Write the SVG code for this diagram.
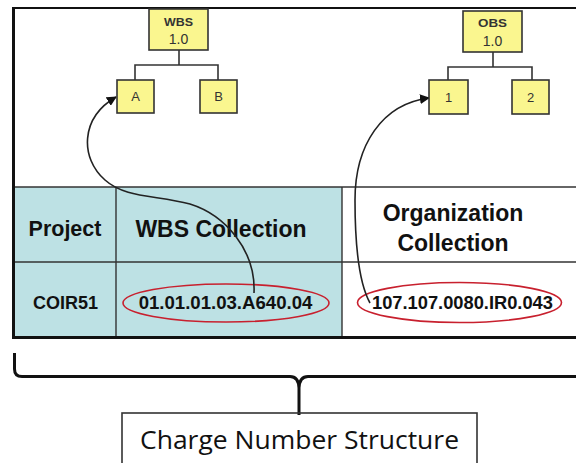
<svg xmlns="http://www.w3.org/2000/svg" width="576" height="463" viewBox="0 0 576 463">
<style>
.box{fill:#FAF68F;stroke:#333;stroke-width:1.6}
.tree{fill:none;stroke:#333;stroke-width:1.6}
.bt{font-family:"Liberation Sans",Arial,sans-serif;fill:#333;text-anchor:middle}
.th{font-family:"Liberation Sans",Arial,sans-serif;font-weight:bold;fill:#111;text-anchor:middle}
.grid{stroke:#333;stroke-width:1.4;fill:none}
.ell{fill:none;stroke:#C8202E;stroke-width:1.6}
.conn{fill:none;stroke:#222;stroke-width:1.6}
</style>
<defs>
<marker id="ah" markerWidth="10" markerHeight="10" refX="9" refY="5" orient="auto" markerUnits="userSpaceOnUse">
<path d="M0,0 L10,5 L0,10 z" fill="#111"/>
</marker>
</defs>
<rect x="0" y="0" width="576" height="463" fill="#fff"/>
<g id="table">
<rect x="13" y="187" width="329" height="150" fill="#BDE1E4"/>
<rect x="342" y="187" width="234" height="150" fill="#fff"/>
<line class="grid" x1="13" y1="187" x2="576" y2="187"/>
<line class="grid" x1="13" y1="262" x2="576" y2="262"/>
<line class="grid" x1="116" y1="187" x2="116" y2="337"/>
<line class="grid" x1="342" y1="187" x2="342" y2="337"/>
<line x1="13" y1="337.5" x2="576" y2="337.5" stroke="#111" stroke-width="3"/>
<line x1="13.5" y1="7" x2="13.5" y2="339" stroke="#111" stroke-width="3"/>
<line x1="12" y1="8" x2="576" y2="8" stroke="#111" stroke-width="2.2"/>
<text class="th" x="65" y="236" font-size="21.5">Project</text>
<text class="th" x="221" y="237" font-size="23">WBS Collection</text>
<text class="th" x="453" y="221" font-size="23">Organization</text>
<text class="th" x="453" y="251" font-size="23">Collection</text>
<text class="th" x="65.5" y="309" font-size="18">COIR51</text>
<text class="th" x="225.5" y="309" font-size="18.6">01.01.01.03.A640.04</text>
<text class="th" x="462.5" y="309" font-size="18.3">107.107.0080.IR0.043</text>
<ellipse class="ell" cx="226" cy="303" rx="103" ry="19"/>
<ellipse class="ell" cx="459.5" cy="302.5" rx="102" ry="20"/>
</g>
<g id="connectors">
<path class="tree" d="M179,50 V65 M135,80 V65 H218 V80"/>
<path class="tree" d="M493,52 V67 M448,80 V67 H532 V80"/>
<path class="conn" d="M254,293 C256,250 225,215 190,204 C155,195 125,198 105,180 C80,158 80,118 116,97" marker-end="url(#ah)"/>
<path class="conn" d="M370,303 C360,285 355,250 355,200 C355,145 382,104 429,98" marker-end="url(#ah)"/>
<path d="M14.5,353 V369 Q14.5,376.5 22,376.5 H290 Q298.5,376.5 299,388 V415 M299,388 Q299.5,376.5 308,376.5 H576" fill="none" stroke="#111" stroke-width="3"/>
</g>
<g id="wbs">
<rect class="box" x="149" y="9" width="59" height="41"/>
<text class="bt" x="178.5" y="25.5" font-size="11.5" font-weight="bold" textLength="29" lengthAdjust="spacingAndGlyphs">WBS</text>
<text class="bt" x="178.5" y="44" font-size="14">1.0</text>
</g>
<g id="wbs-a">
<rect class="box" x="117" y="80" width="37" height="33"/>
<text class="bt" x="135.5" y="101" font-size="13">A</text>
</g>
<g id="wbs-b">
<rect class="box" x="200" y="80" width="37" height="33"/>
<text class="bt" x="218.5" y="101" font-size="13">B</text>
</g>
<g id="obs">
<rect class="box" x="463" y="11" width="59" height="41"/>
<text class="bt" x="492.5" y="27" font-size="11.5" font-weight="bold" textLength="29" lengthAdjust="spacingAndGlyphs">OBS</text>
<text class="bt" x="492.5" y="45.5" font-size="14">1.0</text>
</g>
<g id="obs-1">
<rect class="box" x="429" y="80" width="39" height="34"/>
<text class="bt" x="448.5" y="102" font-size="13">1</text>
</g>
<g id="obs-2">
<rect class="box" x="512" y="80" width="37" height="34"/>
<text class="bt" x="530.5" y="102" font-size="13">2</text>
</g>
<g id="charge">
<rect x="122" y="413" width="355" height="60" fill="none" stroke="#333" stroke-width="1.6"/>
<text x="140" y="449" font-family="Open Sans,Noto Sans,sans-serif" font-size="26" fill="#111" textLength="319" lengthAdjust="spacingAndGlyphs">Charge Number Structure</text>
</g>
</svg>
